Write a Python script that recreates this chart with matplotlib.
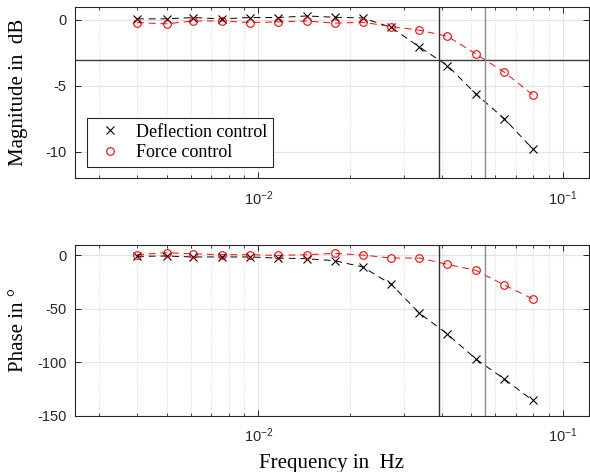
import numpy as np
import matplotlib
matplotlib.use("Agg")
import matplotlib.pyplot as plt
from matplotlib.ticker import LogLocator, LogFormatterSciNotation, NullFormatter

plt.rcParams['mathtext.fontset'] = 'custom'
plt.rcParams['mathtext.rm'] = 'Liberation Sans'
plt.rcParams['mathtext.it'] = 'Liberation Sans'
plt.rcParams['mathtext.default'] = 'regular'
plt.rcParams['axes.unicode_minus'] = False

# measured frequencies (Hz)
freq = [0.0040, 0.0050, 0.0061, 0.0076, 0.0094, 0.0116, 0.0144, 0.0178,
        0.0220, 0.0273, 0.0338, 0.0418, 0.0518, 0.0641, 0.0795]

# magnitude in dB
mag_defl = [0.08, 0.08, 0.18, 0.08, 0.18, 0.18, 0.30, 0.20,
            0.15, -0.56, -2.05, -3.46, -5.60, -7.47, -9.75]
mag_force = [-0.20, -0.30, -0.08, -0.08, -0.20, -0.15, -0.08, -0.25,
             -0.18, -0.50, -0.78, -1.24, -2.58, -3.94, -5.66]

# phase in degrees
phase_defl = [-0.9, -0.6, -1.5, -1.5, -1.5, -2.5, -3.1, -5.0,
              -10.8, -27.0, -54.0, -73.7, -97.0, -115.5, -135.6]
phase_force = [0.6, 2.5, 1.5, 0.6, 0.6, 0.0, 0.6, 1.9,
               0.3, -2.5, -2.5, -8.4, -14.0, -27.6, -40.6]

# -3 dB level and cutoff frequencies
cut_level = -3
f_cut_defl = 0.0393
f_cut_force = 0.0557

labels = ["Deflection control", "Force control"]

serif = ['Liberation Serif', 'DejaVu Serif']
sans = ['Liberation Sans', 'DejaVu Sans']
axcol = '#262626'
dash = (0, (7, 5))

fig = plt.figure(figsize=(5.9, 4.72), dpi=100)
ax1 = fig.add_axes([0.127, 0.6222, 0.871, 0.3636])
ax2 = fig.add_axes([0.127, 0.1193, 0.871, 0.3623])


def style(ax):
    ax.set_xscale('log')
    ax.set_xlim(0.0025, 0.1217)
    ax.xaxis.set_major_locator(LogLocator(base=10, numticks=10))
    ax.xaxis.set_minor_locator(LogLocator(base=10, subs=np.arange(2, 10), numticks=20))
    ax.xaxis.set_major_formatter(LogFormatterSciNotation())
    ax.xaxis.set_minor_formatter(NullFormatter())
    ax.grid(True, which='major', color='#e3e3e3', lw=0.8, ls='-')
    ax.grid(True, which='minor', axis='x', color='#d8d8d8', lw=0.7, ls=':')
    ax.set_axisbelow(True)
    ax.tick_params(which='both', direction='in', top=True, right=True,
                   color=axcol, labelcolor=axcol, labelsize=10.5)
    ax.tick_params(axis='x', pad=8)
    ax.tick_params(axis='y', pad=6)
    ax.tick_params(which='major', length=4, width=0.7)
    ax.tick_params(which='minor', length=2.5, width=0.6)
    for lab in ax.get_xticklabels() + ax.get_yticklabels():
        lab.set_family(sans)
    for s in ax.spines.values():
        s.set_color(axcol)
        s.set_linewidth(0.8)


# magnitude
style(ax1)
ax1.plot(freq, mag_defl, color='k', ls=dash, lw=0.7)
ax1.plot(freq, mag_force, color='r', ls=dash, lw=0.7)
ax1.plot(freq, mag_defl, 'kx', ms=5.5, mew=0.8, label=labels[0])
ax1.plot(freq, mag_force, 'o', mfc='none', mec='r', ms=5.5, mew=0.8, label=labels[1])
ax1.axhline(cut_level, color='#3c3c3c', lw=1.0)
ax1.axvline(f_cut_defl, color='#303030', lw=1.0)
ax1.axvline(f_cut_force, color='#8c8c8c', lw=1.0)
ax1.set_ylim(-12, 1)
ax1.set_yticks([0, -5, -10])
ax1.set_ylabel("Magnitude in  dB", family=serif, fontsize=15)
ax1.yaxis.set_label_coords(-0.092, 0.5)
leg = ax1.legend(loc='lower left', bbox_to_anchor=(0.023, 0.068), borderaxespad=0,
                 prop={'family': serif, 'size': 13},
                 frameon=True, fancybox=False, edgecolor=axcol, framealpha=1,
                 handlelength=1.95, handletextpad=0.47, borderpad=0.3, labelspacing=0.2)
leg.get_frame().set_linewidth(0.8)

# phase
style(ax2)
ax2.plot(freq, phase_defl, color='k', ls=dash, lw=0.7)
ax2.plot(freq, phase_force, color='r', ls=dash, lw=0.7)
ax2.plot(freq, phase_defl, 'kx', ms=5.5, mew=0.8)
ax2.plot(freq, phase_force, 'o', mfc='none', mec='r', ms=5.5, mew=0.8)
ax2.axvline(f_cut_defl, color='#303030', lw=1.0)
ax2.axvline(f_cut_force, color='#8c8c8c', lw=1.0)
ax2.set_ylim(-150, 10)
ax2.set_yticks([0, -50, -100, -150])
ax2.set_ylabel("Phase in °", family=serif, fontsize=15)
ax2.yaxis.set_label_coords(-0.092, 0.5)
ax2.set_xlabel("Frequency in  Hz", family=serif, fontsize=15, labelpad=6)

fig.savefig("out.png", dpi=100)
